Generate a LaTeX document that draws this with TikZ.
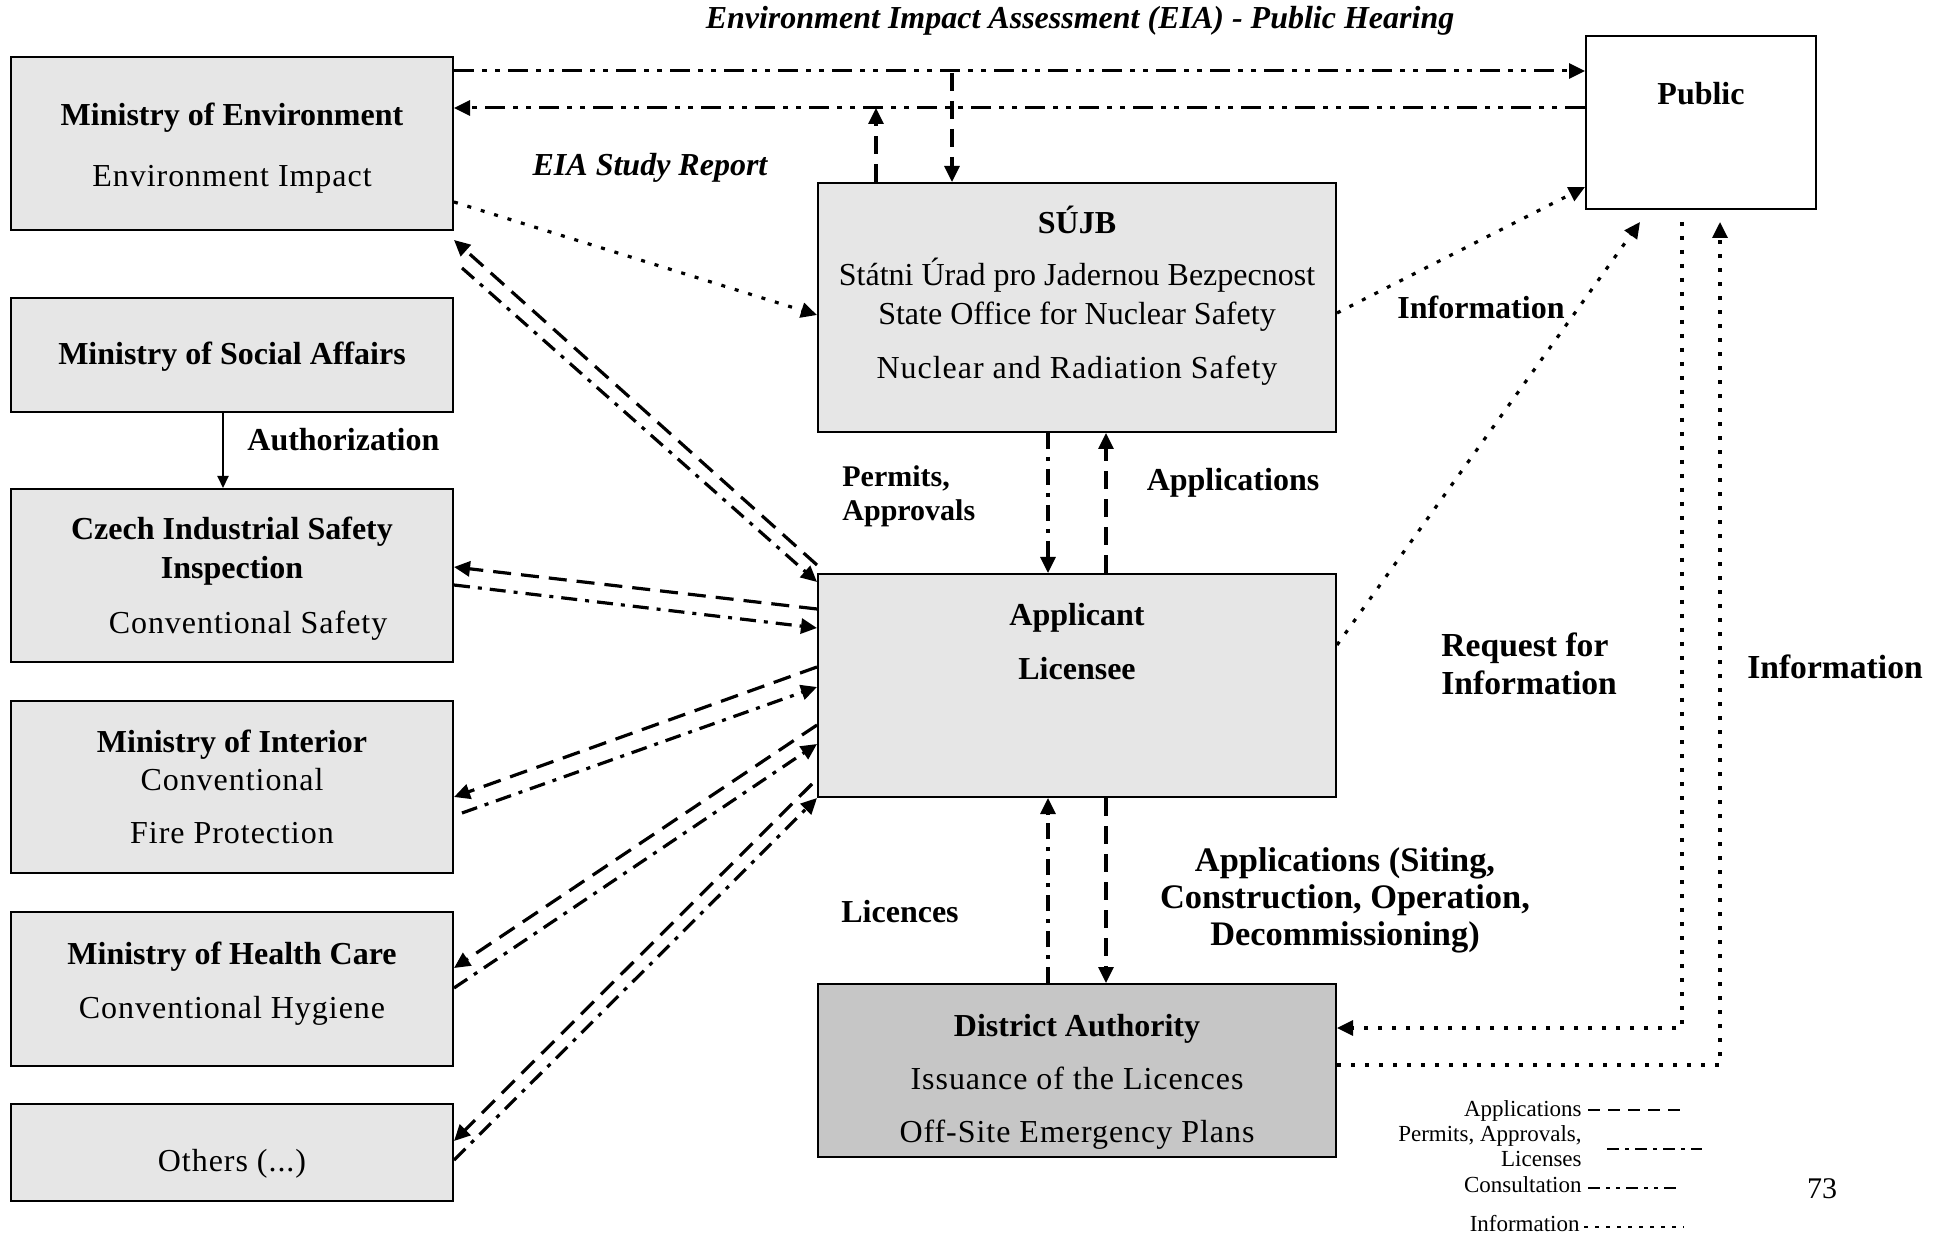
\documentclass[tikz,border=0pt]{standalone}
\usepackage{fontspec}
\setmainfont{Liberation Serif}
\newfontfamily\spfont[LetterSpace=3]{Liberation Serif}
\usetikzlibrary{arrows.meta,fit,calc}
\definecolor{boxgray}{RGB}{230,230,230}
\definecolor{distgray}{RGB}{198,198,198}
\begin{document}
\begin{tikzpicture}[x=0.5pt,y=-0.5pt,
  box/.style={draw=black,line width=1pt,fill=boxgray,inner sep=0pt},
  txt/.style={font=\fontsize{16}{19}\selectfont,inner sep=0pt,anchor=base},
  stxt/.style={font=\fontsize{16}{19}\selectfont\spfont,inner sep=0pt,anchor=base},
  btxt/.style={font=\fontsize{16}{19}\selectfont\bfseries,inner sep=0pt,anchor=base},
  bigb/.style={font=\fontsize{16.8}{20}\selectfont\bfseries,inner sep=0pt,anchor=base},
  lgtxt/.style={font=\fontsize{11.5}{15}\selectfont,inner sep=0pt,anchor=base east},
  tip/.style={-{Triangle[length=8pt,width=7.5pt]}},
  conn/.style={line width=1.6pt,tip},
  appl/.style={conn,dash pattern=on 9pt off 5pt},
  perm/.style={conn,dash pattern=on 8pt off 4pt on 2pt off 4pt},
  cons/.style={conn,line width=1.5pt,dash pattern=on 10pt off 4pt on 2.5pt off 4pt on 2.5pt off 4pt},
  info/.style={conn,dash pattern=on 2pt off 5pt},
  lgline/.style={line width=1.1pt}
]
\useasboundingbox (0,0) rectangle (1953,1234);

% boxes
\node[box,fit={(11,57)(453,230)}] (me) {};
\node[box,fit={(11,298)(453,412)}] (soc) {};
\node[box,fit={(11,489)(453,662)}] (czi) {};
\node[box,fit={(11,701)(453,873)}] (mint) {};
\node[box,fit={(11,912)(453,1066)}] (mhc) {};
\node[box,fit={(11,1104)(453,1201)}] (oth) {};
\node[box,fit={(818,183)(1336,432)}] (sujb) {};
\node[box,fit={(818,574)(1336,797)}] (app) {};
\node[box,fill=distgray,fit={(818,984)(1336,1157)}] (dist) {};
\node[box,fill=white,fit={(1586,36)(1816,209)}] (pub) {};

% box texts
\node[btxt] (meA) at (232,126) {Ministry of Environment};
\node[stxt] (meB) at (232,187) {Environment Impact};
\node[btxt] (socA) at (232,365) {Ministry of Social Affairs};
\node[btxt] (cziA) at (232,540) {Czech Industrial Safety};
\node[btxt] (cziB) at (232,579) {Inspection};
\node[stxt] (cziC) at (248,633) {Conventional Safety};
\node[btxt] (mintA) at (232,752) {Ministry of Interior};
\node[stxt] (mintB) at (232,790) {Conventional};
\node[stxt] (mintC) at (232,843) {Fire Protection};
\node[btxt] (mhcA) at (232,964) {Ministry of Health Care};
\node[stxt] (mhcB) at (232,1018) {Conventional Hygiene};
\node[stxt] (othA) at (232,1171) {Others (...)};
\node[btxt] (sujbA) at (1077,234) {SÚJB};
\node[txt] (sujbB) at (1077,286) {Státni Úrad pro Jadernou Bezpecnost};
\node[txt] (sujbC) at (1077,325) {State Office for Nuclear Safety};
\node[stxt] (sujbD) at (1077,379) {Nuclear and Radiation Safety};
\node[btxt] (appA) at (1077,626) {Applicant};
\node[btxt] (appB) at (1077,680) {Licensee};
\node[btxt] (distA) at (1077,1036) {District Authority};
\node[stxt] (distB) at (1077,1089) {Issuance of the Licences};
\node[stxt] (distC) at (1077,1142) {Off-Site Emergency Plans};
\node[btxt] (pubA) at (1701,105) {Public};

% labels
\node[btxt,font=\fontsize{16}{19}\selectfont\bfseries\itshape] (title) at (1080,29) {Environment Impact Assessment (EIA) - Public Hearing};
\node[btxt,font=\fontsize{16}{19}\selectfont\bfseries\itshape] (eia) at (650,176) {EIA Study Report};
\node[btxt,anchor=base west] (auth) at (247,451) {Authorization};
\node[btxt,font=\fontsize{15}{18}\selectfont\bfseries,anchor=base west] (permA) at (842,487) {Permits,};
\node[btxt,font=\fontsize{15}{18}\selectfont\bfseries,anchor=base west] (permB) at (842,521) {Approvals};
\node[btxt] (applL) at (1233,491) {Applications};
\node[btxt] (infoA) at (1481,319) {Information};
\node[bigb,anchor=base west] (reqA) at (1441,656) {Request for};
\node[bigb,anchor=base west] (reqB) at (1441,694) {Information};
\node[bigb] (infoB) at (1835,678) {Information};
\node[btxt] (lic) at (900,922) {Licences};
\node[bigb,font=\fontsize{17.2}{20}\selectfont\bfseries] (apsA) at (1345,871) {Applications (Siting,};
\node[bigb,font=\fontsize{17.2}{20}\selectfont\bfseries] (apsB) at (1345,908) {Construction, Operation,};
\node[bigb,font=\fontsize{17.2}{20}\selectfont\bfseries] (apsC) at (1345,945) {Decommissioning)};

% top consultation lines
\draw[cons] (me.east |- 0,71) -- (pub.west |- 0,71);
\draw[cons] (pub.west |- 0,108) -- (me.east |- 0,108);
\coordinate (upend) at (876,108);
\coordinate (dnstart) at (952,73);
\draw[appl] (sujb.north -| upend) -- (upend);
\draw[appl] (dnstart) -- (sujb.north -| dnstart);

% EIA report
\draw[info] (me.east |- 0,202) -- (sujb.west |- 0,315);

% ME <-> Applicant
\draw[appl] ([yshift=4pt]app.north west) -- ([yshift=-4.5pt]me.south east);
\draw[perm] ([xshift=4pt,yshift=-18.5pt]me.south east) -- ([yshift=-4.5pt]app.north west);
% Czech
\draw[appl] (app.west |- 0,609) -- (czi.east |- 0,567);
\draw[perm] (czi.east |- 0,585) -- (app.west |- 0,628);
% Interior
\draw[appl] (app.west |- 0,667) -- (mint.east |- 0,797);
\draw[perm] ([xshift=4pt]mint.east |- 0,813) -- (app.west |- 0,687);
% Health
\draw[appl] (app.west |- 0,725) -- (mhc.east |- 0,968);
\draw[perm] (mhc.east |- 0,988) -- (app.west |- 0,744);
% Others
\draw[appl] ([xshift=-2.5pt,yshift=7pt]app.south west) -- (oth.east |- 0,1141);
\draw[perm] (oth.east |- 0,1160) -- (app.south west);

% SUJB <-> Applicant
\coordinate (xl) at (1048,0);
\coordinate (xr) at (1106,0);
\draw[perm] (sujb.south -| xl) -- (app.north -| xl);
\draw[appl] (app.north -| xr) -- (sujb.south -| xr);
% Applicant <-> District
\draw[perm] (dist.north -| xl) -- (app.south -| xl);
\draw[appl] (app.south -| xr) -- (dist.north -| xr);

% Authorization
\draw[line width=1pt,-{Triangle[length=6pt,width=5.5pt]}] (soc.south -| 223,0) -- (czi.north -| 223,0);

% information lines
\coordinate (apppub) at (1640,222);
\coordinate (pubdist) at (1682,222);
\coordinate (distpub) at (1720,222);
\draw[info] (sujb.east |- 0,313) -- (pub.west |- 0,187);
\draw[info] (app.east |- 0,645) -- (apppub);
\draw[info] (pubdist) |- (dist.east |- 0,1028);
\draw[info] (dist.east |- 0,1065) -| (distpub);

% legend
\node[lgtxt] (lg1) at (1582,1116) {Applications};
\node[lgtxt] (lg2a) at (1582,1141) {Permits, Approvals,};
\node[lgtxt] (lg2b) at (1582,1166) {Licenses};
\node[lgtxt] (lg3) at (1582,1192) {Consultation};
\node[lgtxt] (lg4) at (1580,1231) {Information};
\coordinate (l1a) at (1588,1110);
\coordinate (l2a) at (1607,1149);
\coordinate (l3a) at (1588,1188);
\coordinate (l4a) at (1584,1227);
\draw[lgline,dash pattern=on 6pt off 4pt] (l1a) -- ++(94,0);
\draw[lgline,dash pattern=on 6pt off 3pt on 2pt off 3pt] (l2a) -- ++(95,0);
\draw[lgline,dash pattern=on 6pt off 3pt on 2pt off 3pt on 2pt off 3pt] (l3a) -- ++(92,0);
\draw[lgline,dash pattern=on 2pt off 3.5pt] (l4a) -- ++(100,0);
\node[txt,font=\fontsize{15}{18}\selectfont] (pg) at (1822,1198) {73};
\end{tikzpicture}
\end{document}
